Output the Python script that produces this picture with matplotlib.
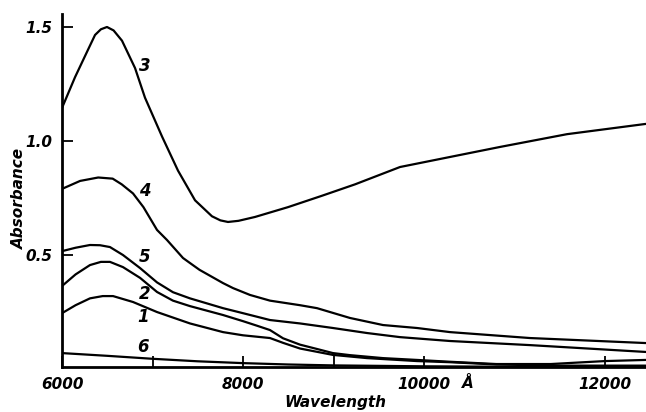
import matplotlib
matplotlib.use("Agg")
import matplotlib.pyplot as plt
import matplotlib.transforms as mtransforms

# ---- data ----
x3 = [6000, 6144, 6287, 6365, 6430, 6497, 6570, 6663, 6807, 6917, 7105, 7282, 7470, 7657, 7750,
      7834, 7950, 8133, 8497, 8873, 9238, 9735, 10287, 10840, 11580, 12450]
y3 = [1.145, 1.28, 1.40, 1.465, 1.49, 1.50, 1.485, 1.44, 1.32, 1.19, 1.02, 0.87, 0.74, 0.67, 0.652,
      0.645, 0.65, 0.667, 0.71, 0.76, 0.81, 0.886, 0.93, 0.974, 1.03, 1.075]

x4 = [6000, 6200, 6400, 6560, 6660, 6785, 6900, 7050, 7160, 7337, 7414, 7520, 7779, 7890, 8077,
      8298, 8630, 8818, 9182, 9547, 9923, 10287, 11171, 12450]
y4 = [0.79, 0.825, 0.84, 0.835, 0.81, 0.77, 0.71, 0.61, 0.566, 0.487, 0.465, 0.435, 0.377, 0.355,
      0.325, 0.30, 0.28, 0.267, 0.224, 0.193, 0.18, 0.162, 0.136, 0.114]

x5 = [6000, 6150, 6309, 6420, 6530, 6674, 6862, 7050, 7226, 7414, 7779, 8000, 8298, 8630, 8994,
      9370, 9735, 10287, 11171, 12450]
y5 = [0.517, 0.532, 0.544, 0.543, 0.535, 0.50, 0.443, 0.38, 0.337, 0.31, 0.267, 0.245, 0.215, 0.20,
      0.18, 0.158, 0.14, 0.123, 0.105, 0.075]

x2 = [6000, 6150, 6309, 6430, 6530, 6674, 6862, 7050, 7226, 7414, 7779, 8000, 8155, 8298, 8442,
      8630, 8818, 8994, 9182, 9547, 9923, 10287, 10800, 11400, 12000, 12450]
y2 = [0.364, 0.415, 0.456, 0.47, 0.47, 0.447, 0.40, 0.338, 0.30, 0.276, 0.237, 0.21, 0.19, 0.171,
      0.135, 0.107, 0.088, 0.07, 0.061, 0.048, 0.04, 0.032, 0.022, 0.022, 0.035, 0.04]

x1 = [6000, 6150, 6309, 6450, 6564, 6785, 7050, 7414, 7779, 8000, 8298, 8442, 8630, 8994,
      9370, 9923, 10287, 10800, 11500, 12450]
y1 = [0.245, 0.28, 0.31, 0.32, 0.32, 0.294, 0.25, 0.20, 0.162, 0.148, 0.136, 0.115, 0.09, 0.062,
      0.048, 0.035, 0.03, 0.02, 0.015, 0.015]

x6 = [6000, 6500, 7000, 7500, 8000, 8500, 9000, 10000, 11000, 12450]
y6 = [0.07, 0.058, 0.045, 0.034, 0.026, 0.02, 0.016, 0.012, 0.01, 0.01]

curve_labels = ["1", "2", "3", "4", "5", "6"]
label_x = [6895, 6917, 6917, 6917, 6917, 6895]
label_y = [0.23, 0.33, 1.33, 0.78, 0.49, 0.097]

xtick_pos = [6000, 7000, 8000, 9000, 10000, 12000]
xtick_lab = ["6000", "", "8000", "", "10000", "12000"]
ytick_pos = [0.5, 1.0, 1.5]
ytick_lab = ["0.5", "1.0", "1.5"]

# ---- figure ----
W, H = 646, 412
fig = plt.figure(figsize=(W / 100, H / 100), dpi=100)
ax = fig.add_axes([62 / W, 1 - 367 / H, (646 - 62) / W, (367 - 14) / H])

lw = 1.6
for xs, ys in [(x1, y1), (x2, y2), (x3, y3), (x4, y4), (x5, y5), (x6, y6)]:
    ax.plot(xs, ys, color="black", lw=lw, solid_joinstyle="round", solid_capstyle="round")

ax.set_xlim(6000, 12453)
ax.set_ylim(0.009, 1.557)

for s in ["top", "right"]:
    ax.spines[s].set_visible(False)
for s in ["left", "bottom"]:
    ax.spines[s].set_linewidth(2.0)

fontkw = dict(family="DejaVu Sans", style="italic", weight="bold")

ax.set_xticks(xtick_pos)
ax.set_xticklabels(xtick_lab, fontsize=11, **fontkw)
ax.set_yticks(ytick_pos)
ax.set_yticklabels(ytick_lab, fontsize=11, **fontkw)
ax.tick_params(axis="both", direction="in", length=8, width=1.3, pad=7)

for lab, lx, ly in zip(curve_labels, label_x, label_y):
    ax.text(lx, ly, lab, fontsize=12, ha="center", va="center", **fontkw)

trans = mtransforms.blended_transform_factory(ax.transData, fig.transFigure)
ax.text(10480, 1 - 383 / H, "Å", transform=trans, fontsize=11, ha="center", va="center", **fontkw)

fig.text(335 / W, 1 - 403 / H, "Wavelength", fontsize=11, ha="center", va="center", **fontkw)
fig.text(19 / W, 1 - 198 / H, "Absorbance", fontsize=11, ha="center", va="center",
         rotation=90, **fontkw)

fig.savefig("out.png", dpi=100)
